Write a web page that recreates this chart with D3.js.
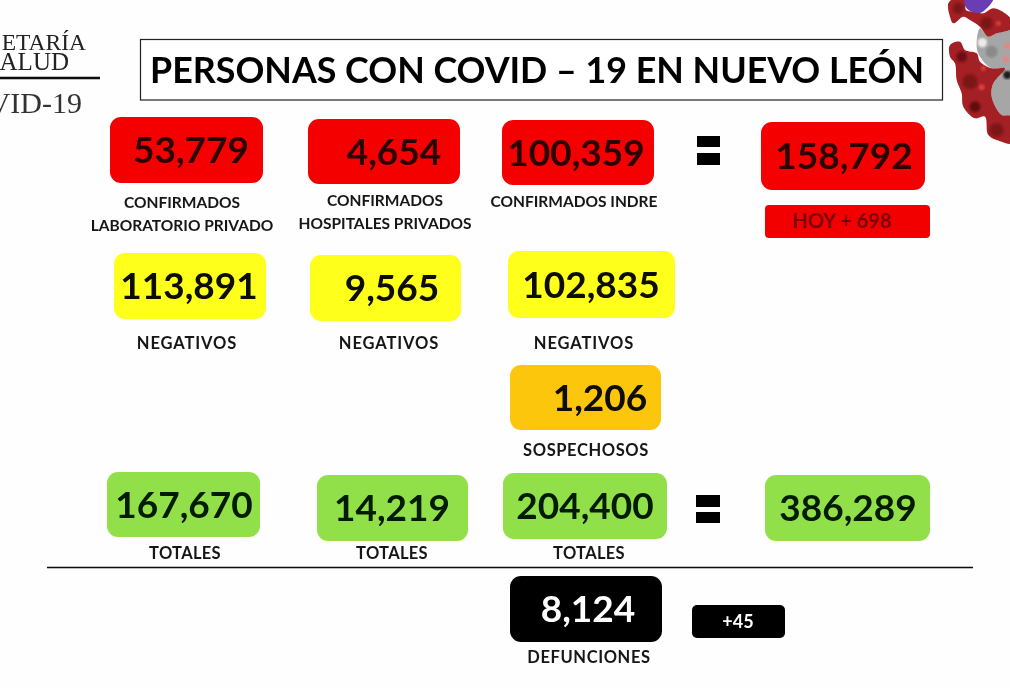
<!DOCTYPE html>
<html>
<head>
<meta charset="utf-8">
<script src="https://cdn.jsdelivr.net/npm/d3@7"></script>
<style>
  html, body { margin: 0; padding: 0; background: #fefefe; overflow: hidden; }
  text { font-family: Lato, "Open Sans", sans-serif; font-weight: 700; }
</style>
</head>
<body>
<script>
// values
const cardNames = ["lab", "hosp", "indre", "confTotal", "negLab", "negHosp", "negIndre", "sosp", "totLab", "totHosp", "totIndre", "grandTotal", "defun"];
const cardValues = [53779, 4654, 100359, 158792, 113891, 9565, 102835, 1206, 167670, 14219, 204400, 386289, 8124];
const cardKinds = ["red", "red", "red", "red", "yellow", "yellow", "yellow", "orange", "green", "green", "green", "green", "black"];

const captionTexts = ["CONFIRMADOS", "LABORATORIO PRIVADO", "CONFIRMADOS", "HOSPITALES PRIVADOS", "CONFIRMADOS INDRE", "NEGATIVOS", "NEGATIVOS", "NEGATIVOS", "SOSPECHOSOS", "TOTALES", "TOTALES", "TOTALES", "DEFUNCIONES"];

const titleText = "PERSONAS CON COVID – 19 EN NUEVO LEÓN";
const todayConfirmed = "HOY + 698";
const todayDeaths = "+45";

// layout, kept apart from the values
const left = d3.scaleOrdinal().domain(cardNames).range([110, 308, 502, 761, 114, 310, 508, 510, 107, 317, 503, 765, 510]);
const right = d3.scaleOrdinal().domain(cardNames).range([263, 460, 654, 925, 266, 461, 675, 661, 260, 468, 667, 930, 662]);
const top_ = d3.scaleOrdinal().domain(cardNames).range([117, 119, 120, 122, 253, 255, 251, 365, 472, 475, 473, 475, 576]);
const bottom = d3.scaleOrdinal().domain(cardNames).range([183, 184, 185, 190, 319, 321, 318, 430, 537, 541, 539, 541, 642]);
const textX = d3.scaleOrdinal().domain(cardNames).range([191, 394, 576, 844, 189, 392, 591, 600, 184, 392, 585, 848, 588]);
const captionX = [182, 182, 385, 385, 574, 187, 389, 584, 586, 185, 392, 589, 589];
const captionY = [208, 231, 206, 229, 207, 349, 349, 349, 456, 559, 559, 559, 663];
const captionSize = [15.5, 15.5, 15.5, 15.5, 15.5, 16.5, 16.5, 16.5, 16.5, 16.5, 16.5, 16.5, 16.5];
const captionSpacing = [0, 0, 0, 0, 0, 0.9, 0.9, 0.9, 0.6, 0.3, 0.3, 0.3, 0.6];

const fillOf = d3.scaleOrdinal().domain(["red", "yellow", "orange", "green", "black"]).range(["#f50000", "#ffff1a", "#fcc60e", "#92e04a", "#000000"]);
const inkOf = d3.scaleOrdinal().domain(["red", "yellow", "orange", "green", "black"]).range(["#2a0006", "#0a0a00", "#0a0800", "#061a00", "#ffffff"]);

const svg = d3.select("body").append("svg")
    .attr("width", 1010)
    .attr("height", 688)
    .style("display", "block");

const defs = svg.append("defs");
defs.append("filter").attr("id", "soft").append("feGaussianBlur").attr("stdDeviation", 0.45);
defs.append("filter").attr("id", "lump").append("feGaussianBlur").attr("stdDeviation", 2.5);

const g = svg.append("g").attr("filter", "url(#soft)");

// coronavirus picture, top right corner (outlines traced in a 3x crop)
const blob = d3.line().curve(d3.curveCatmullRomClosed);
const virus = svg.append("g").attr("transform", "translate(930,0) scale(0.3333)");
const virusShapes = [
  { fill: "#a6a6a6", pts: [[150, 85], [175, 110], [200, 100], [245, 90], [245, 350], [215, 345], [185, 290], [190, 250], [225, 205], [185, 205], [150, 170], [140, 140]] },
  { fill: "#a32024", pts: [[55, 10], [75, -6], [105, -6], [108, 30], [135, 35], [160, 40], [190, 25], [225, 40], [245, 60], [245, 85], [200, 100], [175, 110], [150, 80], [120, 60], [100, 50], [70, 70], [60, 50]] },
  { fill: "#a32024", pts: [[60, 135], [90, 125], [105, 150], [140, 160], [150, 185], [185, 205], [225, 205], [190, 250], [185, 290], [215, 345], [245, 350], [245, 430], [215, 425], [175, 405], [165, 350], [135, 355], [100, 320], [95, 280], [80, 240], [75, 190], [60, 170]] },
  { fill: "#6a3db5", pts: [[105, -6], [190, -6], [165, 30], [145, 40], [110, 25]] }
];
const virusSpots = [
  [85, 25, 16, "#7c1216"], [170, 70, 18, "#7c1216"], [95, 170, 16, "#6e0f14"], [120, 245, 22, "#7a1216"], [135, 320, 16, "#5e0c10"],
  [200, 390, 20, "#7a1216"], [155, 262, 9, "#e0403f"], [160, 205, 8, "#d83a3a"], [205, 70, 8, "#d83a3a"],
  [157, 128, 14, "#ececec"], [185, 155, 18, "#8a8a8a"], [232, 225, 12, "#1c1c1c"], [232, 138, 9, "#f08080"], [228, 178, 9, "#f08080"]
];
virus.selectAll("path").data(virusShapes).join("path")
    .attr("d", d => blob(d.pts)).attr("fill", d => d.fill);
virus.selectAll("circle").data(virusSpots).join("circle")
    .attr("cx", d => d[0]).attr("cy", d => d[1]).attr("r", d => d[2]).attr("fill", d => d[3])
    .attr("filter", "url(#lump)");

// logo text, cut off by the left edge
g.append("text").attr("x", 86).attr("y", 50).attr("text-anchor", "end")
    .style("font-family", "'Liberation Serif'").style("font-weight", 400).style("font-size", "23.5px").attr("fill", "#222")
    .text("ETARÍA");
g.append("text").attr("x", 69).attr("y", 70).attr("text-anchor", "end")
    .style("font-family", "'Liberation Serif'").style("font-weight", 400).style("font-size", "25px").attr("fill", "#222")
    .text("ALUD");
g.append("line").attr("x1", 0).attr("x2", 100).attr("y1", 78).attr("y2", 78).attr("stroke", "#111").attr("stroke-width", 2.5);
g.append("text").attr("x", 82).attr("y", 113).attr("text-anchor", "end")
    .style("font-family", "'Liberation Serif'").style("font-weight", 400).style("font-size", "30px").attr("fill", "#333")
    .text("VID-19");

// title box
g.append("rect").attr("x", 140.5).attr("y", 39.5).attr("width", 802).attr("height", 60.5)
    .attr("fill", "#fff").attr("stroke", "#222").attr("stroke-width", 1.2);
g.append("text").attr("x", 150).attr("y", 83).style("font-size", "35.8px").attr("fill", "#050505").text(titleText);

// cards
const cards = cardNames.map((name, i) => ({ name, value: cardValues[i], kind: cardKinds[i] }));
g.selectAll("rect.card").data(cards).join("rect").attr("class", "card")
    .attr("x", d => left(d.name))
    .attr("y", d => top_(d.name))
    .attr("width", d => right(d.name) - left(d.name))
    .attr("height", d => bottom(d.name) - top_(d.name))
    .attr("rx", 11)
    .attr("fill", d => fillOf(d.kind));
g.selectAll("text.value").data(cards).join("text").attr("class", "value")
    .attr("x", d => textX(d.name))
    .attr("y", d => (top_(d.name) + bottom(d.name)) / 2 + 13)
    .attr("text-anchor", "middle")
    .style("font-size", "37px")
    .attr("fill", d => inkOf(d.kind))
    .text(d => d3.format(",")(d.value));

// captions under the cards
g.selectAll("text.caption").data(captionTexts).join("text").attr("class", "caption")
    .attr("x", (d, i) => captionX[i])
    .attr("y", (d, i) => captionY[i])
    .attr("text-anchor", "middle")
    .style("font-size", (d, i) => captionSize[i] + "px")
    .style("letter-spacing", (d, i) => captionSpacing[i] + "px")
    .attr("fill", "#151515")
    .text(d => d);

// small boxes with today's changes
g.append("rect").attr("x", 765).attr("y", 205).attr("width", 165).attr("height", 33).attr("rx", 4).attr("fill", "#f20000");
g.append("text").attr("x", 842).attr("y", 228).attr("text-anchor", "middle").style("font-size", "20px").attr("fill", "#7a0008").text(todayConfirmed);
g.append("rect").attr("x", 692).attr("y", 605).attr("width", 93).attr("height", 33).attr("rx", 5).attr("fill", "#000");
g.append("text").attr("x", 738).attr("y", 628).attr("text-anchor", "middle").style("font-size", "18px").attr("fill", "#fff").text(todayDeaths);

// equals signs
const equalsBars = [[697, 136, 23, 11], [697, 153, 23, 12], [696, 495, 24, 12], [696, 512, 24, 11]];
g.selectAll("rect.eq").data(equalsBars).join("rect").attr("class", "eq")
    .attr("x", d => d[0]).attr("y", d => d[1]).attr("width", d => d[2]).attr("height", d => d[3]).attr("fill", "#000");

// divider above deaths
g.append("line").attr("x1", 47).attr("x2", 973).attr("y1", 567.5).attr("y2", 567.5).attr("stroke", "#111").attr("stroke-width", 1.6);
</script>
</body>
</html>
